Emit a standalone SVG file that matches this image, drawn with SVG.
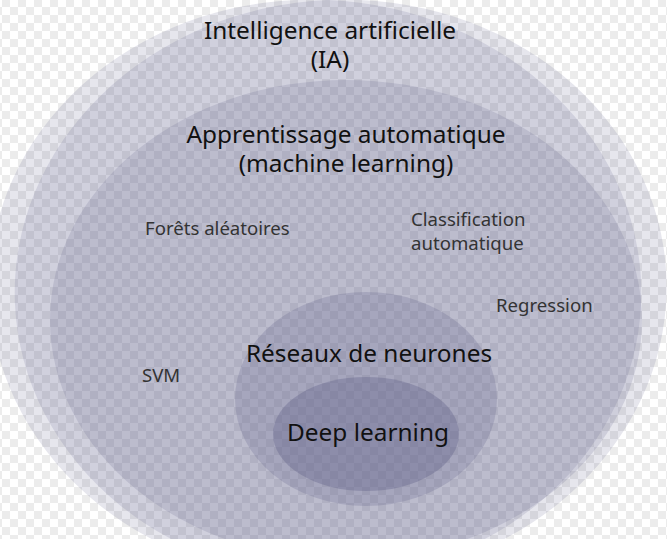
<svg xmlns="http://www.w3.org/2000/svg" width="667" height="539" viewBox="0 0 667 539">
  <defs>
    <pattern id="checker" patternUnits="userSpaceOnUse" x="2" y="7" width="16" height="16">
      <rect x="0" y="0" width="16" height="16" fill="#ffffff"/>
      <rect x="8" y="0" width="8" height="8" fill="#ececec"/>
      <rect x="0" y="8" width="8" height="8" fill="#ececec"/>
    </pattern>
  </defs>
  <style>
    .layer { fill: #5a5a84; }
    .big { font-family: "Noto Sans", "Open Sans", "DejaVu Sans", sans-serif; font-size: 24.4px; fill: #111111; text-anchor: middle; }
    .small { font-family: "Noto Sans", "Open Sans", "DejaVu Sans", sans-serif; font-size: 18.6px; fill: #333333; }
  </style>
  <rect x="0" y="0" width="667" height="539" fill="url(#checker)"/>

  <g id="ia">
    <ellipse class="layer" cx="328" cy="290" rx="326" ry="290" fill-opacity="0.15" transform="rotate(2.5 328 0)"/>
    <ellipse class="layer" cx="328" cy="290" rx="326" ry="290" fill-opacity="0.15" transform="rotate(-2.5 328 0)"/>
    <text class="big" x="330" y="39">Intelligence artificielle</text>
    <text class="big" x="330" y="68">(IA)</text>
  </g>

  <g id="ml">
    <ellipse class="layer" cx="346" cy="320" rx="296" ry="240" fill-opacity="0.17"/>
    <text class="big" x="346" y="143">Apprentissage automatique</text>
    <text class="big" x="346" y="172">(machine learning)</text>
  </g>

  <g id="forets">
    <text class="small" x="145" y="235">Forêts aléatoires</text>
  </g>
  <g id="classification">
    <text class="small" x="411" y="226">Classification</text>
    <text class="small" x="411" y="250">automatique</text>
  </g>
  <g id="regression">
    <text class="small" x="496" y="312">Regression</text>
  </g>
  <g id="svm">
    <text class="small" x="142" y="382">SVM</text>
  </g>

  <g id="rn">
    <ellipse class="layer" cx="366" cy="399" rx="131" ry="107" fill-opacity="0.22"/>
    <text class="big" x="369" y="362">Réseaux de neurones</text>
  </g>

  <g id="dl">
    <ellipse class="layer" cx="366" cy="434" rx="93" ry="57" fill-opacity="0.32"/>
    <text class="big" x="368" y="441">Deep learning</text>
  </g>

  <g id="connectors"/>
</svg>
